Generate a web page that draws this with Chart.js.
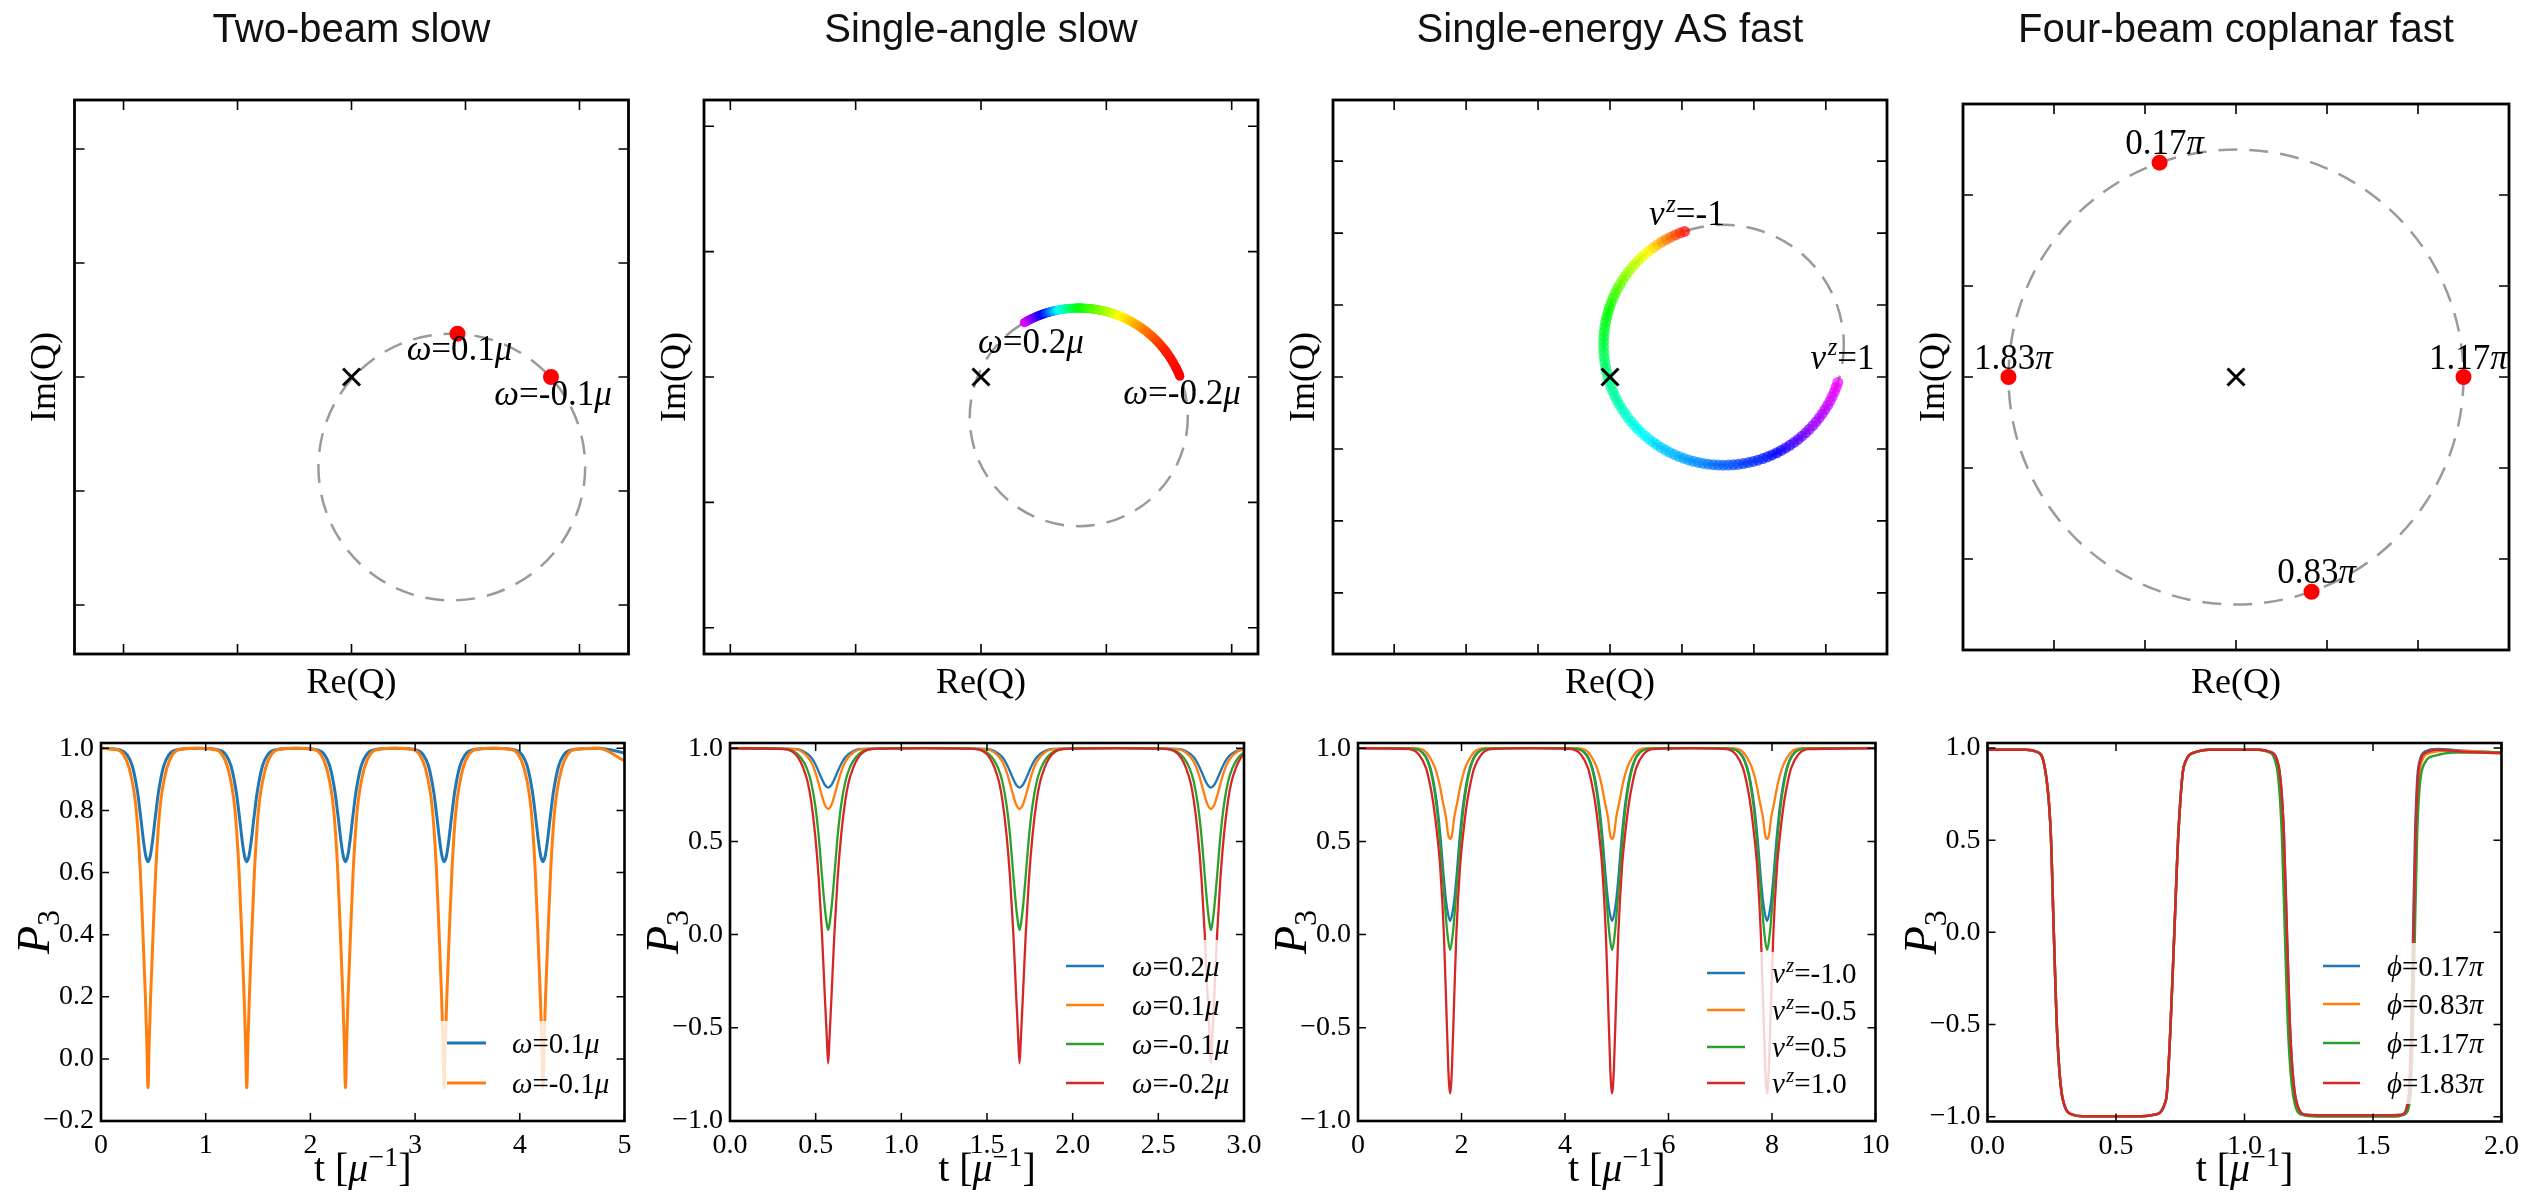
<!DOCTYPE html>
<html><head><meta charset="utf-8">
<script src="https://cdn.jsdelivr.net/npm/chart.js@4.4.1/dist/chart.umd.min.js"></script>
<style>
html,body{margin:0;padding:0;background:#fff;}
#wrap{position:relative;width:2547px;height:1192px;overflow:hidden;background:#fff;}
#wrap canvas{position:absolute;left:0;top:0;}
</style></head><body><div id="wrap"></div>
<script>
// ===================== DATA =====================
const titles = ['Two-beam slow','Single-angle slow','Single-energy AS fast','Four-beam coplanar fast'];
const crossX = [0], crossY = [0];

// Panel 1 top: Two-beam slow
const p1CircleCenter = [0.88, -0.79], p1CircleRadius = 1.17;
const p1PointX = [0.93, 1.75], p1PointY = [0.38, 0.0];
const p1PointLabels = ['*ω*=0.1*μ*', '*ω*=-0.1*μ*'];
// Panel 2 top: Single-angle slow
const p2CircleCenter = [0.78, -0.32], p2CircleRadius = 0.87;
const p2ArcAngle = [120, 109, 100, 89, 67, 52, 37, 22];
const p2ArcHue   = [300, 240, 180, 120, 60, 30, 8, 0];
const p2LabelX = [0.35, 1.58], p2LabelY = [0.43, 0.0];
const p2Labels = ['*ω*=0.2*μ*', '*ω*=-0.2*μ*'];
// Panel 3 top: Single-energy AS fast
const p3CircleCenter = [1.58, 0.445], p3CircleRadius = 1.67;
const p3ArcAngle = [109, 130, 164, 196, 238, 267, 297, 317, 344];
const p3ArcHue   = [0, 60, 120, 150, 190, 215, 240, 275, 300];
const p3LabelX = [1.04, 3.19], p3LabelY = [2.02, 0.0];
const p3Labels = ['*v^{z}*=-1', '*v^{z}*=1'];
// Panel 4 top: Four-beam coplanar fast
const p4CircleCenter = [0, 0], p4CircleRadius = 2.5;
const p4PointX = [-0.84, 0.83, 2.5, -2.5], p4PointY = [2.355, -2.36, 0, 0];
const p4PointLabels = ['0.17*π*', '0.83*π*', '1.17*π*', '1.83*π*'];

// Bottom panel 1
const b1Legend = ['*ω*=0.1*μ*', '*ω*=-0.1*μ*'];
const b1BlueT = [0,
0.189,0.249,0.299,0.349,0.379,0.409,0.429,0.449,0.469,0.489,0.519,0.549,0.599,0.649,0.709,
0.92,
1.132,1.192,1.242,1.292,1.322,1.352,1.372,1.392,1.412,1.432,1.462,1.492,1.542,1.592,1.652,
1.864,
2.075,2.135,2.185,2.235,2.265,2.295,2.315,2.335,2.355,2.375,2.405,2.435,2.485,2.535,2.595,
2.807,
3.018,3.078,3.128,3.178,3.208,3.238,3.258,3.278,3.298,3.318,3.348,3.378,3.428,3.478,3.538,
3.75,
3.961,4.021,4.071,4.121,4.151,4.181,4.201,4.221,4.241,4.261,4.291,4.321,4.371,4.421,4.481,
4.75,5.0];
const b1BlueP = [1.0,
0.994,0.979,0.943,0.859,0.779,0.693,0.651,0.635,0.651,0.693,0.779,0.859,0.943,0.979,0.994,
1.0,
0.994,0.979,0.943,0.859,0.779,0.693,0.651,0.635,0.651,0.693,0.779,0.859,0.943,0.979,0.994,
1.0,
0.994,0.979,0.943,0.859,0.779,0.693,0.651,0.635,0.651,0.693,0.779,0.859,0.943,0.979,0.994,
1.0,
0.994,0.979,0.943,0.859,0.779,0.693,0.651,0.635,0.651,0.693,0.779,0.859,0.943,0.979,0.994,
1.0,
0.994,0.979,0.943,0.859,0.779,0.693,0.651,0.635,0.651,0.693,0.779,0.859,0.943,0.979,0.994,
1.0,0.985];
const b1OrangeT = [0,
0.149,0.209,0.269,0.337,0.376,0.401,0.424,0.437,0.449,0.461,0.474,0.497,0.522,0.561,0.629,0.689,0.749,
0.92,
1.092,1.152,1.212,1.28,1.319,1.344,1.367,1.38,1.392,1.404,1.417,1.44,1.465,1.504,1.572,1.632,1.692,
1.864,
2.035,2.095,2.155,2.223,2.262,2.287,2.31,2.323,2.335,2.347,2.36,2.383,2.408,2.447,2.515,2.575,2.635,
2.807,
2.978,3.038,3.098,3.166,3.205,3.23,3.253,3.266,3.278,3.29,3.303,3.326,3.351,3.39,3.458,3.518,3.578,
3.75,
3.921,3.981,4.041,4.109,4.148,4.173,4.196,4.209,4.221,4.233,4.246,4.269,4.294,4.333,4.401,4.461,4.521,
4.75,5.0];
const b1OrangeP = [1.0,
0.996,0.982,0.936,0.8,0.6,0.4,0.2,0.06,-0.093,0.06,0.2,0.4,0.6,0.8,0.936,0.982,0.996,
1.0,
0.996,0.982,0.936,0.8,0.6,0.4,0.2,0.06,-0.093,0.06,0.2,0.4,0.6,0.8,0.936,0.982,0.996,
1.0,
0.996,0.982,0.936,0.8,0.6,0.4,0.2,0.06,-0.093,0.06,0.2,0.4,0.6,0.8,0.936,0.982,0.996,
1.0,
0.996,0.982,0.936,0.8,0.6,0.4,0.2,0.06,-0.093,0.06,0.2,0.4,0.6,0.8,0.936,0.982,0.996,
1.0,
0.996,0.982,0.936,0.8,0.6,0.4,0.2,0.06,-0.093,0.06,0.2,0.4,0.6,0.8,0.936,0.982,0.996,
1.0,0.96];

// Bottom panel 2
const b2Legend = ['*ω*=0.2*μ*', '*ω*=0.1*μ*', '*ω*=-0.1*μ*', '*ω*=-0.2*μ*'];
const b2BlueT = [0,
0.373,0.423,0.473,0.503,0.533,0.553,0.573,0.593,0.613,0.643,0.673,0.723,0.773,
1.1315,
1.49,1.54,1.59,1.62,1.65,1.67,1.69,1.71,1.73,1.76,1.79,1.84,1.89,
2.2485,
2.607,2.657,2.707,2.737,2.767,2.787,2.807,2.827,2.847,2.877,2.907,2.957,3.0];
const b2BlueP = [1.0,
0.996,0.986,0.951,0.905,0.841,0.804,0.789,0.804,0.841,0.905,0.951,0.986,0.996,
1.0,
0.996,0.986,0.951,0.905,0.841,0.804,0.789,0.804,0.841,0.905,0.951,0.986,0.996,
1.0,
0.996,0.986,0.951,0.905,0.841,0.804,0.789,0.804,0.841,0.905,0.951,0.986,0.995];
const b2OrangeT = [0,
0.373,0.423,0.473,0.503,0.533,0.553,0.573,0.593,0.613,0.643,0.673,0.723,0.773,
1.1315,
1.49,1.54,1.59,1.62,1.65,1.67,1.69,1.71,1.73,1.76,1.79,1.84,1.89,
2.2485,
2.607,2.657,2.707,2.737,2.767,2.787,2.807,2.827,2.847,2.877,2.907,2.957,3.0];
const b2OrangeP = [1.0,
0.995,0.980,0.928,0.857,0.757,0.698,0.674,0.698,0.757,0.857,0.928,0.980,0.995,
1.0,
0.995,0.980,0.928,0.857,0.757,0.698,0.674,0.698,0.757,0.857,0.928,0.980,0.995,
1.0,
0.995,0.980,0.928,0.857,0.757,0.698,0.674,0.698,0.757,0.857,0.928,0.980,0.992];
const b2GreenT = [0,
0.323,0.373,0.413,0.448,0.473,0.498,0.517,0.533,0.55,0.563,0.573,0.583,0.596,0.613,0.629,0.648,0.673,0.698,0.733,0.773,0.823,
1.1315,
1.44,1.49,1.53,1.565,1.59,1.615,1.634,1.65,1.667,1.68,1.69,1.7,1.713,1.73,1.746,1.765,1.79,1.815,1.85,1.89,1.94,
2.2485,
2.557,2.607,2.647,2.682,2.707,2.732,2.751,2.767,2.784,2.797,2.807,2.817,2.83,2.847,2.863,2.882,2.907,2.932,2.967,3.0];
const b2GreenP = [1.0,
0.995,0.982,0.95,0.893,0.82,0.69,0.535,0.36,0.177,0.07,0.025,0.07,0.177,0.36,0.535,0.69,0.82,0.893,0.95,0.982,0.995,
1.0,
0.995,0.982,0.95,0.893,0.82,0.69,0.535,0.36,0.177,0.07,0.025,0.07,0.177,0.36,0.535,0.69,0.82,0.893,0.95,0.982,0.995,
1.0,
0.995,0.982,0.95,0.893,0.82,0.69,0.535,0.36,0.177,0.07,0.025,0.07,0.177,0.36,0.535,0.69,0.82,0.893,0.95,0.978];
const b2RedT = [0,
0.313,0.363,0.398,0.428,0.453,0.473,0.497,0.518,0.537,0.555,0.565,0.573,0.581,0.591,0.609,0.628,0.649,0.673,0.693,0.718,0.748,0.783,0.833,
1.1315,
1.43,1.48,1.515,1.545,1.57,1.59,1.614,1.635,1.654,1.672,1.682,1.69,1.698,1.708,1.726,1.745,1.766,1.79,1.81,1.835,1.865,1.9,1.95,
2.2485,
2.547,2.597,2.632,2.662,2.687,2.707,2.731,2.752,2.771,2.789,2.799,2.807,2.815,2.825,2.843,2.862,2.883,2.907,2.927,2.952,2.982,3.0];
const b2RedP = [1.0,
0.996,0.982,0.95,0.893,0.82,0.72,0.535,0.3,0.0,-0.36,-0.55,-0.691,-0.55,-0.36,0.0,0.3,0.535,0.72,0.82,0.893,0.95,0.982,0.996,
1.0,
0.996,0.982,0.95,0.893,0.82,0.72,0.535,0.3,0.0,-0.36,-0.55,-0.691,-0.55,-0.36,0.0,0.3,0.535,0.72,0.82,0.893,0.95,0.982,0.996,
1.0,
0.996,0.982,0.95,0.893,0.82,0.72,0.535,0.3,0.0,-0.36,-0.55,-0.691,-0.55,-0.36,0.0,0.3,0.535,0.72,0.82,0.893,0.95,0.967];

// Bottom panel 3
const b3Legend = ['*v^{z}*=-1.0', '*v^{z}*=-0.5', '*v^{z}*=0.5', '*v^{z}*=1.0'];
const b3BlueT = [0,
0.98,1.18,1.4,1.52,1.59,1.66,1.703,1.74,1.78,1.82,1.857,1.9,1.97,2.04,2.16,2.38,2.58,
3.345,
4.11,4.31,4.53,4.65,4.72,4.79,4.833,4.87,4.91,4.95,4.987,5.03,5.1,5.17,5.29,5.51,5.71,
6.41,
7.105,7.305,7.525,7.645,7.715,7.785,7.828,7.865,7.905,7.945,7.982,8.025,8.095,8.165,8.285,8.505,8.705,
10];
const b3BlueP = [1.0,
0.999,0.99,0.893,0.714,0.535,0.3,0.177,0.11,0.073,0.11,0.177,0.3,0.535,0.714,0.893,0.99,0.999,
1.0,
0.999,0.99,0.893,0.714,0.535,0.3,0.177,0.11,0.073,0.11,0.177,0.3,0.535,0.714,0.893,0.99,0.999,
1.0,
0.999,0.99,0.893,0.714,0.535,0.3,0.177,0.11,0.073,0.11,0.177,0.3,0.535,0.714,0.893,0.99,0.999,
1.0];
const b3OrangeT = [0,
1.08,1.265,1.38,1.49,1.58,1.638,1.703,1.74,1.78,1.82,1.857,1.922,1.98,2.07,2.18,2.295,2.48,
3.345,
4.21,4.395,4.51,4.62,4.71,4.768,4.833,4.87,4.91,4.95,4.987,5.052,5.11,5.2,5.31,5.425,5.61,
6.41,
7.205,7.39,7.505,7.615,7.705,7.763,7.828,7.865,7.905,7.945,7.982,8.047,8.105,8.195,8.305,8.42,8.605,
10];
const b3OrangeP = [1.0,
1.0,0.99,0.955,0.893,0.8,0.714,0.624,0.54,0.513,0.54,0.624,0.714,0.8,0.893,0.955,0.99,1.0,
1.0,
1.0,0.99,0.955,0.893,0.8,0.714,0.624,0.54,0.513,0.54,0.624,0.714,0.8,0.893,0.955,0.99,1.0,
1.0,
1.0,0.99,0.955,0.893,0.8,0.714,0.624,0.54,0.513,0.54,0.624,0.714,0.8,0.893,0.955,0.99,1.0,
1.0];
const b3GreenT = [0,
0.98,1.18,1.39,1.507,1.574,1.625,1.675,1.73,1.78,1.83,1.885,1.935,1.986,2.053,2.17,2.38,2.58,
3.345,
4.11,4.31,4.52,4.637,4.704,4.755,4.805,4.86,4.91,4.96,5.015,5.065,5.116,5.183,5.3,5.51,5.71,
6.41,
7.105,7.305,7.515,7.632,7.699,7.75,7.8,7.855,7.905,7.955,8.01,8.06,8.111,8.178,8.295,8.505,8.705,
10];
const b3GreenP = [1.0,
0.999,0.99,0.893,0.714,0.535,0.356,0.177,-0.002,-0.083,-0.002,0.177,0.356,0.535,0.714,0.893,0.99,0.999,
1.0,
0.999,0.99,0.893,0.714,0.535,0.356,0.177,-0.002,-0.083,-0.002,0.177,0.356,0.535,0.714,0.893,0.99,0.999,
1.0,
0.999,0.99,0.893,0.714,0.535,0.356,0.177,-0.002,-0.083,-0.002,0.177,0.356,0.535,0.714,0.893,0.99,0.999,
1.0];
const b3RedT = [0,
0.99,1.18,1.315,1.38,1.45,1.53,1.59,1.66,1.703,1.745,1.762,1.78,1.798,1.815,1.857,1.9,1.97,2.03,2.11,2.18,2.245,2.38,2.57,
3.345,
4.12,4.31,4.445,4.51,4.58,4.66,4.72,4.79,4.833,4.875,4.892,4.91,4.928,4.945,4.987,5.03,5.1,5.16,5.24,5.31,5.375,5.51,5.7,
6.41,
7.115,7.305,7.44,7.505,7.575,7.655,7.715,7.785,7.828,7.87,7.887,7.905,7.923,7.94,7.982,8.025,8.095,8.155,8.235,8.305,8.37,8.505,8.695,
10];
const b3RedP = [1.0,
0.995,0.965,0.893,0.82,0.714,0.535,0.356,0.0,-0.36,-0.718,-0.81,-0.852,-0.81,-0.718,-0.36,0.0,0.356,0.535,0.714,0.82,0.893,0.965,0.995,
1.0,
0.995,0.965,0.893,0.82,0.714,0.535,0.356,0.0,-0.36,-0.718,-0.81,-0.852,-0.81,-0.718,-0.36,0.0,0.356,0.535,0.714,0.82,0.893,0.965,0.995,
1.0,
0.995,0.965,0.893,0.82,0.714,0.535,0.356,0.0,-0.36,-0.718,-0.81,-0.852,-0.81,-0.718,-0.36,0.0,0.356,0.535,0.714,0.82,0.893,0.965,0.995,
1.0];

// Bottom panel 4
const b4Legend = ['*ϕ*=0.17*π*', '*ϕ*=0.83*π*', '*ϕ*=1.17*π*', '*ϕ*=1.83*π*'];
const b4BlueT = [0,0.15,0.19,0.222,0.246,0.258,0.271,0.293,0.334,0.37,0.6,0.647,0.695,0.711,0.727,0.743,0.764,0.815,0.86,1.06,1.097,1.133,1.153,1.165,1.178,1.2,1.24,1.3,1.57,1.61,1.637,1.648,1.656,1.664,1.677,1.71,1.75,1.85,2.0];
const b4BlueP = [0.99,0.99,0.98,0.9,0.543,0.0,-0.545,-0.906,-0.99,-0.997,-0.997,-0.99,-0.906,-0.545,0.0,0.543,0.9,0.98,0.99,0.99,0.98,0.9,0.543,0.0,-0.545,-0.906,-0.99,-0.992,-0.992,-0.99,-0.906,-0.545,0.0,0.543,0.9,0.985,0.995,0.985,0.975];
const b4OrangeT = [0,0.15,0.19,0.222,0.246,0.258,0.271,0.293,0.334,0.37,0.6,0.647,0.695,0.711,0.727,0.743,0.764,0.815,0.86,1.055,1.093,1.129,1.149,1.161,1.174,1.196,1.232,1.29,1.58,1.614,1.641,1.652,1.66,1.668,1.684,1.725,1.78,2.0];
const b4OrangeP = [0.99,0.99,0.98,0.9,0.543,0.0,-0.545,-0.906,-0.99,-0.997,-0.997,-0.99,-0.906,-0.545,0.0,0.543,0.9,0.98,0.99,0.99,0.98,0.9,0.543,0.0,-0.545,-0.906,-0.99,-0.996,-0.996,-0.99,-0.906,-0.545,0.0,0.543,0.9,0.975,0.985,0.975];
const b4GreenT = [0,0.15,0.19,0.222,0.246,0.258,0.271,0.293,0.334,0.37,0.6,0.647,0.695,0.711,0.727,0.743,0.764,0.815,0.86,1.05,1.089,1.125,1.145,1.157,1.17,1.192,1.225,1.28,1.59,1.618,1.645,1.655,1.663,1.672,1.695,1.746,1.81,2.0];
const b4GreenP = [0.99,0.99,0.98,0.9,0.543,0.0,-0.545,-0.906,-0.99,-0.997,-0.997,-0.99,-0.906,-0.545,0.0,0.543,0.9,0.98,0.99,0.99,0.98,0.9,0.543,0.0,-0.545,-0.906,-0.99,-0.999,-0.999,-0.99,-0.906,-0.545,0.0,0.543,0.9,0.96,0.975,0.975];
const b4RedT = [0,0.15,0.19,0.222,0.246,0.258,0.271,0.293,0.334,0.37,0.6,0.647,0.695,0.711,0.727,0.743,0.764,0.815,0.86,1.06,1.097,1.133,1.153,1.165,1.178,1.2,1.24,1.3,1.57,1.61,1.639,1.65,1.658,1.666,1.679,1.714,1.746,1.85,2.0];
const b4RedP = [0.99,0.99,0.98,0.9,0.543,0.0,-0.545,-0.906,-0.99,-0.997,-0.997,-0.99,-0.906,-0.545,0.0,0.543,0.9,0.98,0.99,0.99,0.98,0.9,0.543,0.0,-0.545,-0.906,-0.99,-0.993,-0.993,-0.99,-0.906,-0.545,0.0,0.543,0.9,0.98,0.99,0.98,0.972];

// ===================== RENDERING =====================
const W = 2547, H = 1192;
const SERIF = "'Liberation Serif','Times New Roman',serif";
const SANS = "'Liberation Sans',Arial,sans-serif";
const COLORS = ['#1f77b4', '#ff7f0e', '#2ca02c', '#d62728'];
const WY = 80, HX = 60;

function richSegs(s) {
  const segs = []; let i = 0, it = false, buf = '';
  const push = () => { if (buf) { segs.push({t: buf, it, mode: 0}); buf = ''; } };
  while (i < s.length) {
    const c = s[i];
    if (c === '*') { push(); it = !it; i++; continue; }
    if ((c === '^' || c === '_') && s[i + 1] === '{') {
      push(); const j = s.indexOf('}', i);
      segs.push({t: s.slice(i + 2, j), it, mode: c === '^' ? 1 : -1});
      i = j + 1; continue;
    }
    buf += c; i++;
  }
  push();
  return segs;
}
function drawRich(ctx, s, x, y, size, align, color) {
  const segs = richSegs(s);
  let total = 0; const meas = [];
  for (const g of segs) {
    const fs = size * (g.mode ? 0.7 : 1);
    ctx.font = (g.it ? 'italic ' : '') + fs + 'px ' + SERIF;
    const w = ctx.measureText(g.t).width + (g.mode === 1 && g.it ? size * 0.05 : 0);
    meas.push({g, fs, w}); total += w;
  }
  let cx = align === 'center' ? x - total / 2 : (align === 'right' ? x - total : x);
  const base = y + size * 0.33;
  ctx.fillStyle = color || '#000'; ctx.textBaseline = 'alphabetic'; ctx.textAlign = 'left';
  for (const m of meas) {
    ctx.font = (m.g.it ? 'italic ' : '') + m.fs + 'px ' + SERIF;
    const dy = m.g.mode === 1 ? -size * 0.38 : (m.g.mode === -1 ? size * 0.22 : 0);
    const sx = (m.g.mode === 1 && m.g.it) ? size * 0.05 : 0;
    ctx.fillText(m.g.t, cx + sx, base + dy);
    cx += m.w;
  }
}
function interp(a, A, V) {
  for (let i = 0; i < A.length - 1; i++) {
    const lo = Math.min(A[i], A[i + 1]), hi = Math.max(A[i], A[i + 1]);
    if (a >= lo && a <= hi) { const f = (a - A[i]) / (A[i + 1] - A[i]); return V[i] + f * (V[i + 1] - V[i]); }
  }
  return V[V.length - 1];
}
function fmt(v, d) { const s = Math.abs(v).toFixed(d); return (v < -1e-9 ? '\u2212' : '') + s; }

const wrap = document.getElementById('wrap');
function mkCanvas() {
  const c = document.createElement('canvas');
  c.width = W; c.height = H; c.style.width = W + 'px'; c.style.height = H + 'px';
  wrap.appendChild(c); return c;
}

function makeTop(spec) {
  return {
    id: 'topDeco' + spec.id,
    beforeDatasetsDraw(chart) {
      const ctx = chart.ctx, xs = chart.scales.x, ys = chart.scales.y;
      const c = spec.circle;
      const px = xs.getPixelForValue(c.cx), py = ys.getPixelForValue(c.cy);
      const rx = Math.abs(xs.getPixelForValue(c.cx + c.r) - px), ry = Math.abs(ys.getPixelForValue(c.cy + c.r) - py);
      ctx.save();
      ctx.setLineDash([19, 12]); ctx.lineWidth = 2.5; ctx.strokeStyle = '#9a9a9a';
      ctx.beginPath(); ctx.ellipse(px, py, rx, ry, 0, 0, Math.PI * 2); ctx.stroke();
      ctx.setLineDash([]);
      if (spec.arc) {
        const A = spec.arc.angles, Hh = spec.arc.hues;
        const a0 = A[0], a1 = A[A.length - 1], dir = Math.sign(a1 - a0);
        for (let t = a0; dir > 0 ? t <= a1 + 1e-9 : t >= a1 - 1e-9; t += dir * spec.arc.step) {
          const h = interp(t, A, Hh), rad = t * Math.PI / 180;
          const X = xs.getPixelForValue(c.cx + c.r * Math.cos(rad));
          const Y = ys.getPixelForValue(c.cy + c.r * Math.sin(rad));
          ctx.fillStyle = 'hsla(' + h + ',100%,50%,' + spec.arc.alpha + ')';
          ctx.beginPath(); ctx.arc(X, Y, spec.arc.dot, 0, Math.PI * 2); ctx.fill();
        }
      }
      ctx.restore();
    },
    afterDatasetsDraw(chart) {
      const ctx = chart.ctx, xs = chart.scales.x, ys = chart.scales.y;
      ctx.save();
      for (const L of spec.labels) {
        drawRich(ctx, L.text, xs.getPixelForValue(L.x) + L.dx, ys.getPixelForValue(L.y) + L.dy, 35, 'center');
      }
      ctx.restore();
    },
    afterDraw(chart) {
      const ctx = chart.ctx, xs = chart.scales.x, ys = chart.scales.y, ca = chart.chartArea;
      ctx.save();
      ctx.strokeStyle = '#000'; ctx.lineWidth = 1.6;
      const TL = 10;
      ctx.beginPath();
      for (const v of spec.ticks) {
        const X = xs.getPixelForValue(v), Y = ys.getPixelForValue(v);
        ctx.moveTo(X, ca.bottom); ctx.lineTo(X, ca.bottom - TL);
        ctx.moveTo(X, ca.top); ctx.lineTo(X, ca.top + TL);
        ctx.moveTo(ca.left, Y); ctx.lineTo(ca.left + TL, Y);
        ctx.moveTo(ca.right, Y); ctx.lineTo(ca.right - TL, Y);
      }
      ctx.stroke();
      ctx.lineWidth = 2.8;
      ctx.strokeRect(ca.left, ca.top, ca.right - ca.left, ca.bottom - ca.top);
      drawRich(ctx, 'Re(Q)', (ca.left + ca.right) / 2, 681, 36, 'center');
      ctx.translate(ca.left - 31, (ca.top + ca.bottom) / 2); ctx.rotate(-Math.PI / 2);
      drawRich(ctx, 'Im(Q)', 0, 0, 36, 'center');
      ctx.restore();
    }
  };
}

function topChart(spec) {
  const cv = mkCanvas();
  const ds = [];
  ds.push({data: crossX.map((x, i) => ({x, y: crossY[i]})), pointStyle: 'crossRot', pointRadius: 12,
    pointBorderColor: '#000', pointBackgroundColor: '#000', pointBorderWidth: 3, showLine: false});
  if (spec.pts) ds.push({data: spec.pts.x.map((x, i) => ({x, y: spec.pts.y[i]})), pointRadius: 8,
    pointBackgroundColor: '#ff0000', pointBorderColor: '#ff0000', pointBorderWidth: 0, showLine: false});
  new Chart(cv, {
    type: 'scatter',
    data: {datasets: ds},
    options: {
      responsive: false, animation: false, devicePixelRatio: 1, events: [],
      layout: {padding: {left: spec.box.l, right: W - spec.box.r, top: 0, bottom: H - spec.box.b}},
      plugins: {legend: {display: false}, tooltip: {enabled: false},
        title: {display: true, text: spec.title, color: '#111', font: {family: SANS, size: 40, weight: 'normal'},
          padding: {top: 7, bottom: spec.box.t - 55}}},
      scales: {x: {type: 'linear', display: false, min: -spec.R, max: spec.R},
               y: {type: 'linear', display: false, min: -spec.R, max: spec.R}}
    },
    plugins: [makeTop(spec)]
  });
}

function makeBottom(spec) {
  return {
    id: 'botDeco' + spec.id,
    afterDatasetsDraw(chart) {
      const ctx = chart.ctx, L = spec.legend;
      ctx.save();
      ctx.fillStyle = 'rgba(255,255,255,0.8)';
      ctx.fillRect(L.box[0], L.box[1], L.box[2] - L.box[0], L.box[3] - L.box[1]);
      L.labels.forEach((lab, i) => {
        const y = L.rows[i];
        ctx.strokeStyle = COLORS[i]; ctx.lineWidth = spec.lw;
        ctx.beginPath(); ctx.moveTo(L.hx[0], y); ctx.lineTo(L.hx[1], y); ctx.stroke();
        drawRich(ctx, lab, L.tx, y, 29, 'left');
      });
      ctx.restore();
    },
    afterDraw(chart) {
      const ctx = chart.ctx, xs = chart.scales.x, ys = chart.scales.y, ca = chart.chartArea;
      ctx.save();
      ctx.strokeStyle = '#000'; ctx.lineWidth = 1.5;
      const TL = 8;
      ctx.beginPath();
      for (const t of xs.ticks) {
        const X = xs.getPixelForValue(t.value);
        ctx.moveTo(X, ca.bottom); ctx.lineTo(X, ca.bottom - TL);
        ctx.moveTo(X, ca.top); ctx.lineTo(X, ca.top + TL);
      }
      for (const t of ys.ticks) {
        const Y = ys.getPixelForValue(t.value);
        ctx.moveTo(ca.left, Y); ctx.lineTo(ca.left + TL, Y);
        ctx.moveTo(ca.right, Y); ctx.lineTo(ca.right - TL, Y);
      }
      ctx.stroke();
      ctx.lineWidth = 2.6;
      ctx.strokeRect(ca.left, ca.top, ca.right - ca.left, ca.bottom - ca.top);
      drawRich(ctx, 't [*μ*^{\u22121}]', (ca.left + ca.right) / 2, 1168, 40, 'center');
      ctx.translate(ca.left - 67, (ca.top + ca.bottom) / 2); ctx.rotate(-Math.PI / 2);
      drawRich(ctx, '*P*_{3}', 0, 0, 46, 'center');
      ctx.restore();
    }
  };
}

function bottomChart(spec) {
  const cv = mkCanvas();
  const n = spec.series.length;
  const datasets = spec.series.map((s, i) => ({
    data: s.t.map((t, j) => ({x: t, y: s.p[j]})),
    borderColor: COLORS[i], backgroundColor: COLORS[i], borderWidth: spec.lw,
    pointRadius: 0, fill: false, cubicInterpolationMode: 'monotone', order: n - 1 - i
  }));
  const tickFont = {family: SERIF, size: 28};
  new Chart(cv, {
    type: 'line',
    data: {datasets},
    options: {
      responsive: false, animation: false, devicePixelRatio: 1, events: [],
      layout: {padding: {left: spec.box.l - WY, right: W - spec.box.r, top: spec.box.t, bottom: H - spec.box.b - HX}},
      plugins: {legend: {display: false}, tooltip: {enabled: false}},
      scales: {
        x: {type: 'linear', min: spec.xr[0], max: spec.xr[1], afterFit(s) { s.height = HX; },
          grid: {display: false, drawTicks: false}, border: {display: false},
          ticks: {stepSize: spec.xstep, autoSkip: false, maxRotation: 0, padding: 8, color: '#000', font: tickFont,
            includeBounds: false, callback: (v) => fmt(v, spec.xdec)}},
        y: {type: 'linear', min: spec.yr[0], max: spec.yr[1], afterFit(s) { s.width = WY; },
          grid: {display: false, drawTicks: false}, border: {display: false},
          ticks: {stepSize: spec.ystep, autoSkip: false, padding: 7, color: '#000', font: tickFont,
            includeBounds: false, callback: (v) => fmt(v, 1)}}
      }
    },
    plugins: [makeBottom(spec)]
  });
}

// ---------- top row ----------
topChart({id: 1, title: titles[0], box: {l: 74.5, r: 628.5, t: 100, b: 654}, R: 2.43, ticks: [-2, -1, 0, 1, 2],
  circle: {cx: p1CircleCenter[0], cy: p1CircleCenter[1], r: p1CircleRadius},
  pts: {x: p1PointX, y: p1PointY},
  labels: p1PointLabels.map((t, i) => ({text: t, x: p1PointX[i], y: p1PointY[i], dx: 2, dy: 15 + i}))});
topChart({id: 2, title: titles[1], box: {l: 704, r: 1258, t: 100, b: 654}, R: 2.21, ticks: [-2, -1, 0, 1, 2],
  circle: {cx: p2CircleCenter[0], cy: p2CircleCenter[1], r: p2CircleRadius},
  arc: {angles: p2ArcAngle, hues: p2ArcHue, step: 0.5, dot: 4.5, alpha: 1},
  labels: p2Labels.map((t, i) => ({text: t, x: p2LabelX[i], y: p2LabelY[i], dx: i ? 3 : 6, dy: i ? 15 : 18}))});
topChart({id: 3, title: titles[2], box: {l: 1333, r: 1887, t: 100, b: 654}, R: 3.85, ticks: [-3, -2, -1, 0, 1, 2, 3],
  circle: {cx: p3CircleCenter[0], cy: p3CircleCenter[1], r: p3CircleRadius},
  arc: {angles: p3ArcAngle, hues: p3ArcHue, step: 2.4, dot: 5.5, alpha: 0.7},
  labels: p3Labels.map((t, i) => ({text: t, x: p3LabelX[i], y: p3LabelY[i], dx: i ? 3 : 2, dy: i ? -20 : -18}))});
topChart({id: 4, title: titles[3], box: {l: 1963, r: 2509, t: 104, b: 650}, R: 3.0, ticks: [-2, -1, 0, 1, 2],
  circle: {cx: p4CircleCenter[0], cy: p4CircleCenter[1], r: p4CircleRadius},
  pts: {x: p4PointX, y: p4PointY},
  labels: p4PointLabels.map((t, i) => ({text: t, x: p4PointX[i], y: p4PointY[i], dx: 5, dy: -20}))});

// ---------- bottom row ----------
bottomChart({id: 1, box: {l: 101, r: 624.5, t: 743, b: 1121}, xr: [0, 5], xstep: 1, xdec: 0, yr: [-0.2, 1.017], ystep: 0.2, lw: 3,
  series: [{t: b1BlueT, p: b1BlueP}, {t: b1OrangeT, p: b1OrangeP}],
  legend: {labels: b1Legend, rows: [1043, 1083], hx: [447, 486], tx: 512, box: [437, 1021, 616, 1104]}});
bottomChart({id: 2, box: {l: 730, r: 1244, t: 743, b: 1121}, xr: [0, 3], xstep: 0.5, xdec: 1, yr: [-1, 1.028], ystep: 0.5, lw: 2.3,
  series: [{t: b2BlueT, p: b2BlueP}, {t: b2OrangeT, p: b2OrangeP}, {t: b2GreenT, p: b2GreenP}, {t: b2RedT, p: b2RedP}],
  legend: {labels: b2Legend, rows: [966, 1005, 1044, 1083], hx: [1066, 1104], tx: 1132, box: [1056, 940, 1236, 1104]}});
bottomChart({id: 3, box: {l: 1358, r: 1875.5, t: 743, b: 1121}, xr: [0, 10], xstep: 2, xdec: 0, yr: [-1, 1.028], ystep: 0.5, lw: 2.3,
  series: [{t: b3BlueT, p: b3BlueP}, {t: b3OrangeT, p: b3OrangeP}, {t: b3GreenT, p: b3GreenP}, {t: b3RedT, p: b3RedP}],
  legend: {labels: b3Legend, rows: [973, 1010, 1047, 1083], hx: [1707, 1745], tx: 1772, box: [1697, 952, 1866, 1104]}});
bottomChart({id: 4, box: {l: 1987.5, r: 2501.5, t: 743, b: 1121.5}, xr: [0, 2], xstep: 0.5, xdec: 1, yr: [-1.026, 1.027], ystep: 0.5, lw: 2.5,
  series: [{t: b4BlueT, p: b4BlueP}, {t: b4OrangeT, p: b4OrangeP}, {t: b4GreenT, p: b4GreenP}, {t: b4RedT, p: b4RedP}],
  legend: {labels: b4Legend, rows: [966, 1004, 1043, 1083], hx: [2323, 2360], tx: 2387, box: [2313, 943, 2494, 1104]}});
</script></body></html>
